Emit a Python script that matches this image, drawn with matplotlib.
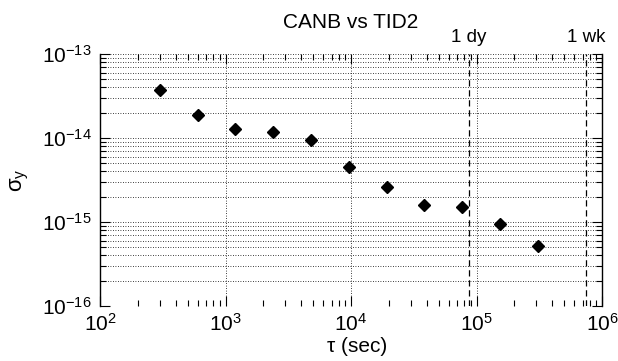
import matplotlib
matplotlib.use("Agg")
import matplotlib.pyplot as plt
import matplotlib.transforms as mtransforms
from matplotlib.ticker import LogLocator, NullFormatter

plt.rcParams["font.family"] = ["Liberation Sans", "DejaVu Sans"]
plt.rcParams["mathtext.fontset"] = "custom"
plt.rcParams["mathtext.rm"] = "Liberation Sans"
plt.rcParams["mathtext.it"] = "Liberation Sans:italic"
plt.rcParams["axes.unicode_minus"] = False

# averaging time (s) and Allan deviation
tau = [300, 600, 1200, 2400, 4800, 9600, 19200, 38400, 76800, 153600, 307200]
sigma = [3.7e-14, 1.9e-14, 1.28e-14, 1.18e-14, 9.5e-15, 4.5e-15,
         2.6e-15, 1.6e-15, 1.5e-15, 9.5e-16, 5.2e-16]

# reference marks drawn as dashed verticals
marks = ["1 dy", "1 wk"]
mark_tau = [86400, 7.5e5]

x_ticks = [1e2, 1e3, 1e4, 1e5, 1e6]
y_ticks = [1e-16, 1e-15, 1e-14, 1e-13]

fig = plt.figure(figsize=(6.18, 3.61), dpi=100)
ax = fig.add_axes([100 / 618, 1 - 306 / 361, 502 / 618, 252 / 361])

ax.plot(tau, sigma, linestyle="none", marker="D", ms=5.8, color="black")

ax.set_xscale("log")
ax.set_yscale("log")
ax.set_xlim(1e2, 1e6)
ax.set_ylim(1e-16, 1e-13)
ax.set_xticks(x_ticks)
ax.set_yticks(y_ticks)

ax.yaxis.set_minor_locator(LogLocator(base=10, subs=range(2, 10)))
ax.xaxis.set_minor_locator(LogLocator(base=10, subs=range(2, 10)))
ax.xaxis.set_minor_formatter(NullFormatter())
ax.yaxis.set_minor_formatter(NullFormatter())

grid_kw = dict(color="black", linestyle=(0, (1, 2)), linewidth=0.6)
ax.grid(True, axis="y", which="both", **grid_kw)
ax.grid(True, axis="x", which="major", **grid_kw)

trans = mtransforms.blended_transform_factory(ax.transData, ax.transAxes)
for name, t in zip(marks, mark_tau):
    ax.axvline(t, color="black", linestyle=(0, (5, 3)), linewidth=0.9)
    ax.annotate(name, xy=(t, 1.0), xycoords=trans, xytext=(0, 9),
                textcoords="offset points", ha="center", va="baseline",
                fontsize=13.5)

ax.tick_params(which="both", direction="in", top=True, right=True,
               labelsize=15, width=0.8)
ax.tick_params(which="major", length=7, pad=6)
ax.tick_params(which="minor", length=4)
ax.tick_params(axis="x", which="major", pad=5)

ax.spines["top"].set_visible(False)
ax.spines["bottom"].set_visible(False)
for side in ("left", "right"):
    ax.spines[side].set_linewidth(1.0)

ax.set_title("CANB vs TID2", fontsize=15, pad=19)
fig.text(357 / 618, 1 - 347 / 361, "τ (sec)", fontsize=15,
         ha="center", va="center")
fig.text(20 / 618, 1 - 180 / 361, r"$\mathrm{\sigma_y}$", fontsize=16,
         rotation=90, ha="center", va="center")

fig.savefig("out.png", dpi=100)
